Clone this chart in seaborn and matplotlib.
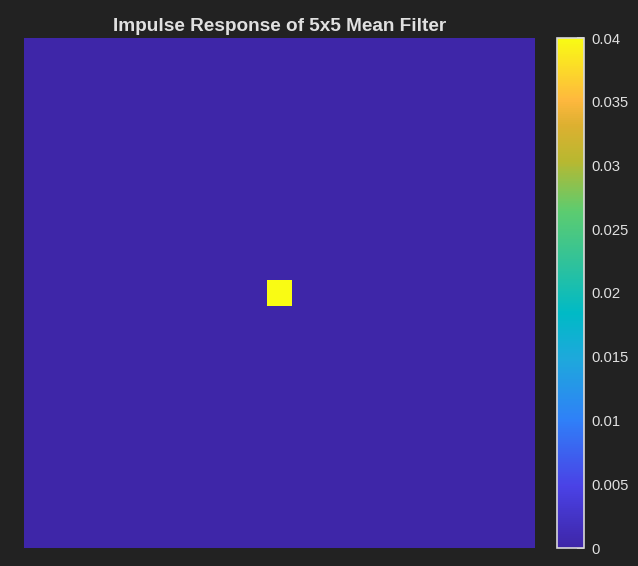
import numpy as np
import matplotlib.pyplot as plt
from matplotlib.colors import LinearSegmentedColormap
import seaborn as sns

# ── Data ─────────────────────────────────────────────────
GRID_SIZE   = 101            # impulse image is 101 x 101
KERNEL_SIZE = 5              # 5x5 mean filter
KERNEL_VAL  = 1.0 / 25       # each tap = 0.04
CBAR_TICKS  = [0, 0.005, 0.01, 0.015, 0.02, 0.025, 0.03, 0.035, 0.04]
TITLE       = "Impulse Response of 5x5 Mean Filter"

# impulse response = the kernel itself, centred in the grid
response = np.zeros((GRID_SIZE, GRID_SIZE))
c = GRID_SIZE // 2
h = KERNEL_SIZE // 2
response[c - h:c + h + 1, c - h:c + h + 1] = KERNEL_VAL

# ── Colormap (parula-like) ───────────────────────────────
parula_stops = [
    (0.00, "#3e26a8"),
    (0.12, "#4a42e6"),
    (0.25, "#2f80f8"),
    (0.37, "#1ea8dc"),
    (0.46, "#00bac6"),
    (0.56, "#30c29a"),
    (0.66, "#5ccc70"),
    (0.76, "#b8b830"),
    (0.83, "#dcb030"),
    (0.88, "#feb83e"),
    (1.00, "#f9fb14"),
]
parula = LinearSegmentedColormap.from_list("parula", parula_stops)

# ── Style ────────────────────────────────────────────────
BG   = "#222222"
TXT  = "#e0e0e0"
sns.set_style("dark")
plt.rcParams['font.family'] = ['Liberation Sans', 'DejaVu Sans']

fig = plt.figure(figsize=(6.38, 5.66), dpi=100)
fig.patch.set_facecolor(BG)
ax   = fig.add_axes([24 / 638, 18 / 566, 511 / 638, 510 / 566])
cax  = fig.add_axes([557 / 638, 18 / 566, 27 / 638, 510 / 566])

sns.heatmap(response, ax=ax, cmap=parula, vmin=0, vmax=0.04,
            xticklabels=False, yticklabels=False, cbar_ax=cax,
            linewidths=0)

ax.set_title(TITLE, color=TXT, fontsize=13.7, fontweight='bold', pad=5)
for sp in ax.spines.values():
    sp.set_visible(False)

# colorbar
cbar = ax.collections[0].colorbar
cbar.set_ticks(CBAR_TICKS)
cbar.set_ticklabels([f"{t:g}" for t in CBAR_TICKS])
cbar.outline.set_visible(True)
cbar.outline.set_edgecolor("#d8d8d8")
cbar.outline.set_linewidth(1.2)
cax.tick_params(axis='y', direction='in', length=5, width=1.2,
                color="#d8d8d8", labelcolor=TXT, labelsize=10.6, pad=5.5)

plt.savefig("out.png", dpi=100, facecolor=BG)
